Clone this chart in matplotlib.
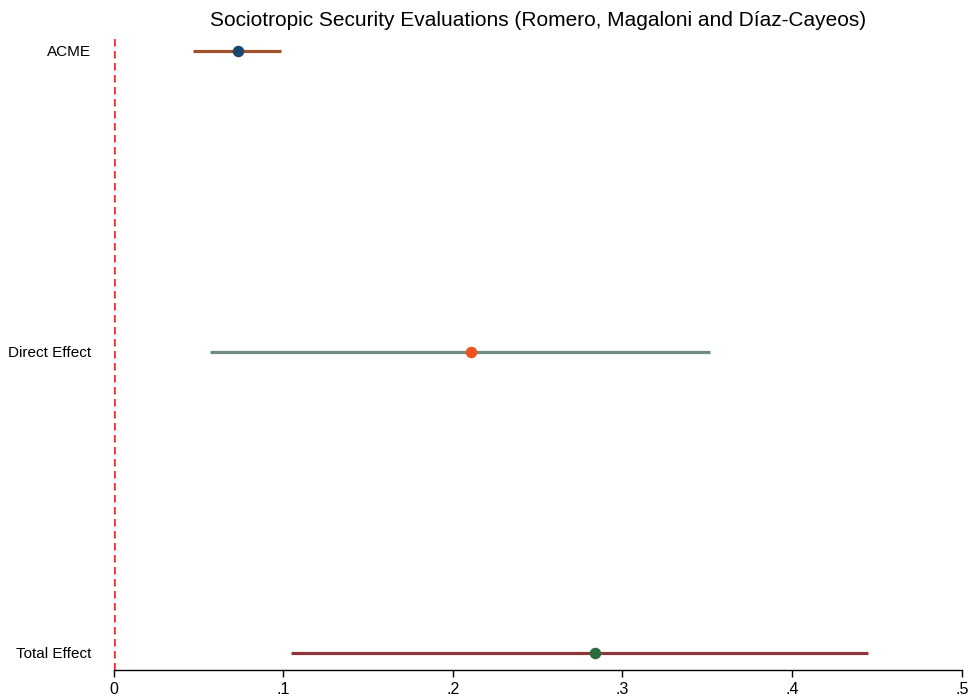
import matplotlib
matplotlib.use("Agg")
import matplotlib.pyplot as plt

labels = ["Total Effect", "Direct Effect", "ACME"]
estimates = [0.284, 0.211, 0.0731]
lower = [0.1044, 0.0566, 0.0466]
upper = [0.445, 0.3514, 0.0985]
line_colors = ["#90353b", "#6e8e84", "#a0522d"]
dot_colors = ["#2b6b3a", "#ee5222", "#1a476f"]
xticks = [0, 0.1, 0.2, 0.3, 0.4, 0.5]
xticklabels = ["0", ".1", ".2", ".3", ".4", ".5"]
title = "Sociotropic Security Evaluations (Romero, Magaloni and Díaz-Cayeos)"

plt.rcParams['font.family'] = ['Liberation Sans', 'DejaVu Sans']

fig = plt.figure(figsize=(9.71, 7.0), dpi=100)
ax = fig.add_axes([113.5/971, 1-670/700, (961.7-113.5)/971, (670-35)/700])

ypos = list(range(len(labels)))
for y, est, lo, hi, lc, dc in zip(ypos, estimates, lower, upper, line_colors, dot_colors):
    ax.plot([lo, hi], [y, y], color=lc, lw=2.3, solid_capstyle='butt', zorder=2)
    ax.plot([est], [y], 'o', color=dc, ms=8.3, mec='none', zorder=3)

ax.axvline(0, color="#f0282d", lw=1.8, ls=(0, (3, 1.8)), zorder=1)

ax.set_xlim(0, 0.5)
ax.set_ylim(-0.0565, 2 + (51-35)/301)
ax.set_xticks(xticks)
ax.set_xticklabels(xticklabels, fontsize=11.5)
ax.set_yticks(ypos)
ax.set_yticklabels(labels, fontsize=11)
ax.tick_params(axis='y', length=0, pad=16)
ax.tick_params(axis='x', length=5, width=1, pad=4)
for s in ['top', 'right', 'left']:
    ax.spines[s].set_visible(False)
ax.spines['bottom'].set_linewidth(1)

fig.text(537.6/971, 1-20/700, title, ha='center', va='center', fontsize=15)

fig.savefig("out.png", dpi=100)
